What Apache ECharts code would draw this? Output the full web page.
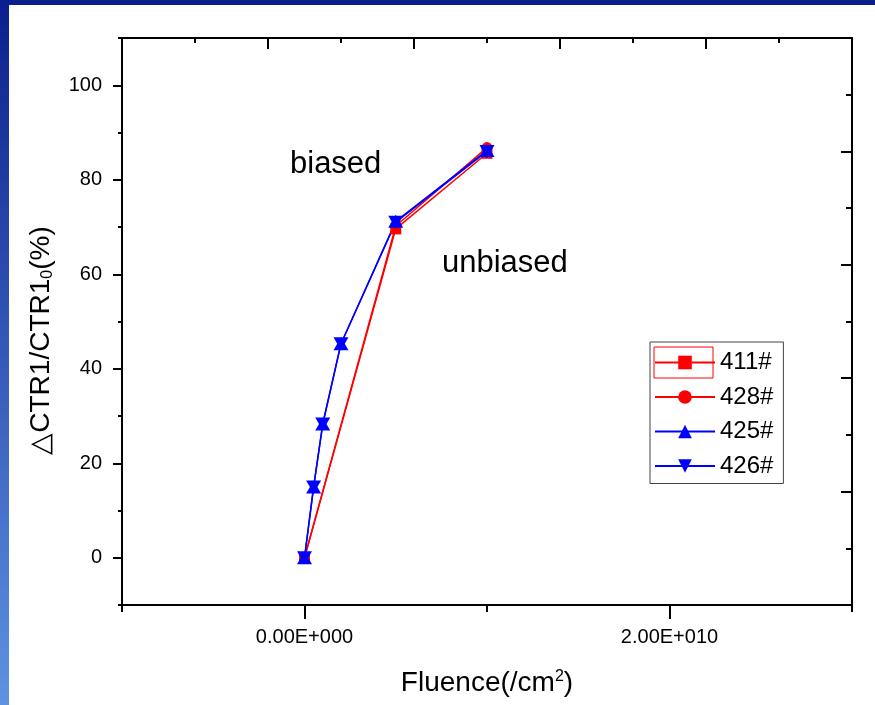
<!DOCTYPE html>
<html>
<head>
<meta charset="utf-8">
<script src="https://cdn.jsdelivr.net/npm/echarts@6/dist/echarts.min.js"></script>
<style>
    html, body { margin: 0; padding: 0; background: #fff; }
    #chart { width: 875px; height: 705px; }
</style>
</head>
<body>
<div id="chart"></div>
<script>
// fluence values (/cm2)
const fluenceBlue = [0, 5e8, 1e9, 2e9, 5e9, 1e10];
const fluenceRed = [0, 5e9, 1e10];

// delta CTR1 / CTR1_0 (%)
const s411 = [0, 69.6, 85.6];
const s428 = [0, 70.2, 86.8];
const s425 = [0, 15.0, 28.3, 45.3, 71.2, 86.2];
const s426 = [0, 15.0, 28.3, 45.3, 71.0, 86.0];

const seriesNames = ['411#', '428#', '425#', '426#'];
const xLabelValues = [0, 2e10];
const yLabelValues = [0, 20, 40, 60, 80, 100];

const FONT = 'Arial, "Liberation Sans", sans-serif';
const upTriangle = 'path://M1,0L2,1.732L0,1.732Z';
const downTriangle = 'path://M0,0L2,0L1,1.732Z';

function pairs(xs, ys) {
    return xs.map((x, i) => [x, ys[i]]);
}

function makeSeries(name, data, color, symbol, size) {
    return {
        name,
        type: 'line',
        data,
        symbol,
        symbolSize: size,
        showSymbol: true,
        animation: false,
        lineStyle: { color, width: 1.5 },
        itemStyle: { color },
        xAxisIndex: 0,
        yAxisIndex: 0
    };
}

const axisLine = { show: true, onZero: false, lineStyle: { color: '#000', width: 2 } };
const noLine = { show: false, onZero: false };
const tickStyle = { color: '#000', width: 2 };

const chart = echarts.init(document.getElementById('chart'));

const option = {
    backgroundColor: '#fff',
    animation: false,
    grid: {
        left: 122,
        top: 38,
        right: 23,
        bottom: 100,
        containLabel: false,
        outerBoundsMode: 'none'
    },
    xAxis: [
        {
            // main bottom axis, short ticks every 1e10
            type: 'value',
            position: 'bottom',
            min: -1e10,
            max: 3e10,
            interval: 1e10,
            axisLine,
            axisTick: { show: true, length: 7, lineStyle: tickStyle },
            axisLabel: {
                show: true,
                margin: 22,
                fontSize: 20,
                fontFamily: FONT,
                color: '#000',
                formatter: v => {
                    if (v === 0) return '0.00E+000';
                    if (v === 2e10) return '2.00E+010';
                    return '';
                }
            },
            splitLine: { show: false },
            name: '{a|Fluence(/cm}{sup|2}{a|)}',
            nameLocation: 'middle',
            nameGap: 64,
            nameTextStyle: {
                rich: {
                    a: { fontSize: 28, fontFamily: FONT, color: '#000' },
                    sup: { fontSize: 16, fontFamily: FONT, color: '#000', verticalAlign: 'top', padding: [0, 0, 12, 0] }
                }
            }
        },
        {
            // long ticks at labelled values
            type: 'value',
            position: 'bottom',
            min: -1e10,
            max: 3e10,
            axisLine: noLine,
            axisTick: { show: true, length: 14, customValues: xLabelValues, lineStyle: tickStyle },
            axisLabel: { show: false },
            splitLine: { show: false }
        },
        {
            // top frame
            type: 'value',
            position: 'top',
            min: 0,
            max: 10,
            interval: 2,
            axisLine,
            axisTick: { show: true, inside: true, length: 11, lineStyle: tickStyle },
            minorTick: { show: true, splitNumber: 2, length: 5, lineStyle: tickStyle },
            axisLabel: { show: false },
            splitLine: { show: false }
        }
    ],
    yAxis: [
        {
            type: 'value',
            position: 'left',
            min: -10,
            max: 110,
            interval: 10,
            axisLine,
            axisTick: { show: true, length: 4, lineStyle: tickStyle },
            axisLabel: {
                show: true,
                margin: 20,
                fontSize: 20,
                fontFamily: FONT,
                color: '#000',
                formatter: v => (yLabelValues.includes(v) ? String(v) : '')
            },
            splitLine: { show: false },
            name: '{a|\u25B3CTR1/CTR1}{sub|0}{a|(%)}',
            nameLocation: 'middle',
            nameGap: 66,
            nameRotate: 90,
            nameTextStyle: {
                padding: [0, 38, 0, 0],
                rich: {
                    a: { fontSize: 28, fontFamily: FONT, color: '#000', lineHeight: 30 },
                    sub: { fontSize: 16, fontFamily: FONT, color: '#000', lineHeight: 30, verticalAlign: 'bottom', padding: [14, 0, 0, 0] }
                }
            }
        },
        {
            type: 'value',
            position: 'left',
            min: -10,
            max: 110,
            axisLine: noLine,
            axisTick: { show: true, length: 9, customValues: yLabelValues, lineStyle: tickStyle },
            axisLabel: { show: false },
            splitLine: { show: false }
        },
        {
            // right frame
            type: 'value',
            position: 'right',
            min: 0,
            max: 10,
            interval: 2,
            axisLine,
            axisTick: { show: true, inside: true, length: 11, lineStyle: tickStyle },
            minorTick: { show: true, splitNumber: 2, length: 6, lineStyle: tickStyle },
            axisLabel: { show: false },
            splitLine: { show: false }
        }
    ],
    legend: {
        data: seriesNames,
        orient: 'vertical',
        left: 650,
        top: 342,
        padding: [8, 10, 5, 4],
        itemWidth: 60,
        itemHeight: 17,
        itemGap: 9.5,
        borderColor: '#444',
        borderWidth: 1,
        backgroundColor: '#fff',
        selectedMode: false,
        textStyle: { fontSize: 24, fontFamily: FONT, color: '#000', lineHeight: 25 }
    },
    graphic: [
        // slide frame
        {
            type: 'rect',
            shape: { x: 0, y: 0, width: 875, height: 5 },
            style: { fill: '#0b1f8f' },
            silent: true
        },
        {
            type: 'rect',
            shape: { x: 0, y: 0, width: 9, height: 705 },
            style: {
                fill: new echarts.graphic.LinearGradient(0, 0, 0, 1, [
                    { offset: 0, color: '#0b1f8f' },
                    { offset: 1, color: '#5e92e2' }
                ])
            },
            silent: true
        },
        {
            type: 'text',
            left: 290,
            top: 149,
            style: { text: 'biased', fontSize: 31, fontFamily: FONT, fill: '#000' },
            silent: true
        },
        {
            type: 'text',
            left: 442,
            top: 248,
            style: { text: 'unbiased', fontSize: 31, fontFamily: FONT, fill: '#000' },
            silent: true
        },
        {
            // selection box round first legend item
            type: 'rect',
            shape: { x: 654, y: 347, width: 59, height: 31 },
            style: { fill: 'none', stroke: '#ff0000', lineWidth: 1 },
            silent: true,
            z: 100
        }
    ],
    series: [
        makeSeries('411#', pairs(fluenceRed, s411), '#ff0000', 'rect', 11),
        makeSeries('428#', pairs(fluenceRed, s428), '#ff0000', 'circle', 11),
        makeSeries('425#', pairs(fluenceBlue, s425), '#0000ff', upTriangle, [15, 13]),
        makeSeries('426#', pairs(fluenceBlue, s426), '#0000ff', downTriangle, [15, 13])
    ]
};

chart.setOption(option);
</script>
</body>
</html>
